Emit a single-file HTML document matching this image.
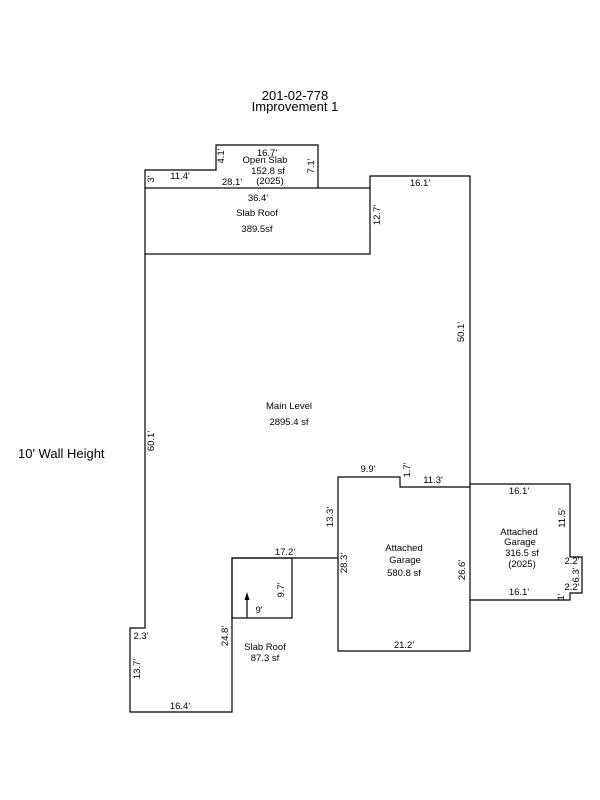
<!DOCTYPE html>
<html><head><style>
body{margin:0;background:#fff;}
svg{display:block;font-family:"Liberation Sans",sans-serif;}
text{font-size:9.5px;fill:#000;}
</style></head><body>
<svg width="600" height="800" viewBox="0 0 600 800">
<g fill="none" stroke="#000" stroke-width="1.2">
<polyline points="145,188 145,170 216,170 216,145 318,145 318,188"/>
<rect x="145" y="188" width="225" height="66"/>
<polyline points="370,188 370,176 470,176 470,487"/>
<polyline points="145,254 145,628 130,628 130,712 232,712 232,558 338,558"/>
<polyline points="338,558 338,477 400,477 400,487 470,487 470,651 338,651 338,558"/>
<polyline points="470,484 570,484 570,557 582,557 582,593 570,593 570,600 470,600"/>
<rect x="232" y="558" width="60" height="60"/>
<line x1="247" y1="618" x2="247" y2="598"/>
</g>
<polygon points="247,592 244.5,600 249.5,600" fill="#000"/>
<text x="295" y="100" text-anchor="middle" style="font-size:13px">201-02-778</text>
<text x="295" y="111" text-anchor="middle" style="font-size:13px">Improvement 1</text>
<text x="18" y="458" style="font-size:13px">10' Wall Height</text>
<text x="267" y="156" text-anchor="middle">16.7'</text>
<text x="265" y="163" text-anchor="middle">Open Slab</text>
<text x="268" y="174" text-anchor="middle">152.8 sf</text>
<text x="270" y="184" text-anchor="middle">(2025)</text>
<text x="180" y="179" text-anchor="middle">11.4'</text>
<text x="232" y="185" text-anchor="middle">28.1'</text>
<text x="258" y="201" text-anchor="middle">36.4'</text>
<text x="257" y="216" text-anchor="middle">Slab Roof</text>
<text x="257" y="232" text-anchor="middle">389.5sf</text>
<text x="420" y="186" text-anchor="middle">16.1'</text>
<text x="289" y="409" text-anchor="middle">Main Level</text>
<text x="289" y="425" text-anchor="middle">2895.4 sf</text>
<text x="368" y="472" text-anchor="middle">9.9'</text>
<text x="433" y="483" text-anchor="middle">11.3'</text>
<text x="404" y="551" text-anchor="middle">Attached</text>
<text x="405" y="563" text-anchor="middle">Garage</text>
<text x="404" y="576" text-anchor="middle">580.8 sf</text>
<text x="404" y="648" text-anchor="middle">21.2'</text>
<text x="519" y="494" text-anchor="middle">16.1'</text>
<text x="519" y="535" text-anchor="middle">Attached</text>
<text x="520" y="545" text-anchor="middle">Garage</text>
<text x="522" y="556" text-anchor="middle">316.5 sf</text>
<text x="522" y="567" text-anchor="middle">(2025)</text>
<text x="519" y="595" text-anchor="middle">16.1'</text>
<text x="572" y="564" text-anchor="middle">2.2'</text>
<text x="572" y="590" text-anchor="middle">2.2'</text>
<text x="285" y="555" text-anchor="middle">17.2'</text>
<text x="259" y="613" text-anchor="middle">9'</text>
<text x="265" y="650" text-anchor="middle">Slab Roof</text>
<text x="265" y="661" text-anchor="middle">87.3 sf</text>
<text x="141" y="639" text-anchor="middle">2.3'</text>
<text x="180" y="709" text-anchor="middle">16.4'</text>
<g>
<text transform="translate(154,179) rotate(-90)" text-anchor="middle">3'</text>
<text transform="translate(224,156) rotate(-90)" text-anchor="middle">4.1'</text>
<text transform="translate(314,166) rotate(-90)" text-anchor="middle">7.1'</text>
<text transform="translate(380,215) rotate(-90)" text-anchor="middle">12.7'</text>
<text transform="translate(464,332) rotate(-90)" text-anchor="middle">50.1'</text>
<text transform="translate(154,441) rotate(-90)" text-anchor="middle">60.1'</text>
<text transform="translate(410,470) rotate(-90)" text-anchor="middle">1.7'</text>
<text transform="translate(333,517) rotate(-90)" text-anchor="middle">13.3'</text>
<text transform="translate(347,563) rotate(-90)" text-anchor="middle">28.3'</text>
<text transform="translate(465,570) rotate(-90)" text-anchor="middle">26.6'</text>
<text transform="translate(565,518) rotate(-90)" text-anchor="middle">11.5'</text>
<text transform="translate(579,575) rotate(-90)" text-anchor="middle">6.3'</text>
<text transform="translate(564,597) rotate(-90)" text-anchor="middle">1'</text>
<text transform="translate(284,590) rotate(-90)" text-anchor="middle">9.7'</text>
<text transform="translate(228,636) rotate(-90)" text-anchor="middle">24.8'</text>
<text transform="translate(140,669) rotate(-90)" text-anchor="middle">13.7'</text>
</g>
</svg>
</body></html>
